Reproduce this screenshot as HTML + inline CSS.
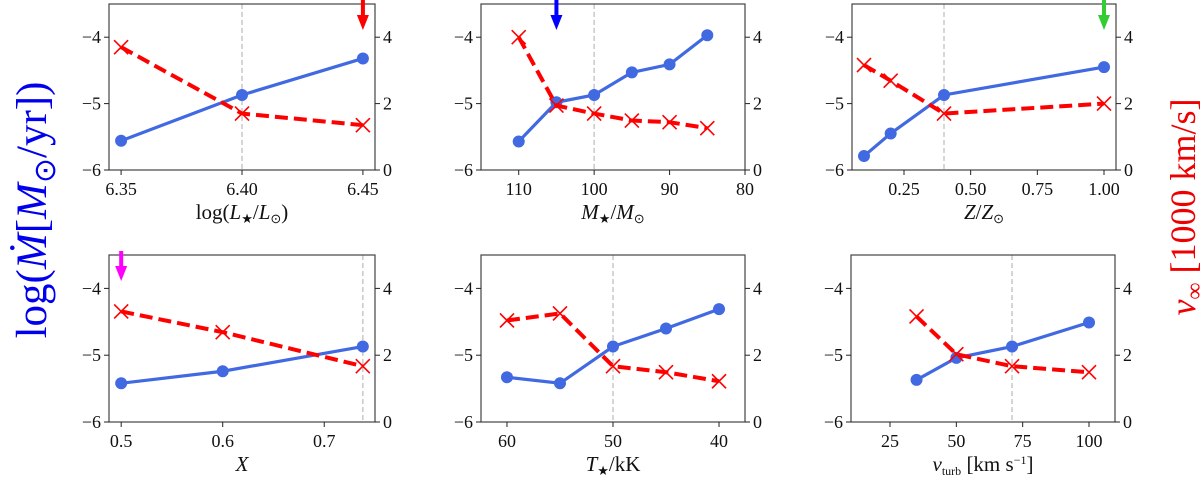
<!DOCTYPE html>
<html><head><meta charset="utf-8"><style>
html,body{margin:0;padding:0;background:#fff;}
svg{display:block;font-family:"Liberation Serif",serif;}
svg text{font-family:"Liberation Serif",serif;}
</style></head><body>
<svg id="fig" width="1200" height="480" viewBox="0 0 1200 480">
<text transform="translate(46,210) rotate(-90)" text-anchor="middle" font-size="43" fill="#0000ee">log(<tspan font-style="italic">Ṁ</tspan>[<tspan font-style="italic">M</tspan><tspan font-size="30" dy="9">⊙</tspan><tspan dy="-9">/yr])</tspan></text>
<text transform="translate(1195,207) rotate(-90)" text-anchor="middle" font-size="36" fill="#ee0000"><tspan font-style="italic">v</tspan><tspan font-size="24" dy="7">∞</tspan><tspan dy="-7"> [1000 km/s]</tspan></text>
</svg>
<script>
// Panel data arrays
const p1X=[6.35,6.40,6.45], p1Mdot=[-5.56,-4.87,-4.32], p1Vinf=[3.70,1.70,1.35];
const p2X=[110,105,100,95,90,85], p2Mdot=[-5.57,-4.98,-4.87,-4.53,-4.41,-3.97], p2Vinf=[4.00,1.94,1.70,1.49,1.44,1.26];
const p3X=[0.1,0.2,0.4,1.0], p3Mdot=[-5.79,-5.45,-4.87,-4.45], p3Vinf=[3.16,2.69,1.70,2.00];
const p4X=[0.5,0.6,0.738], p4Mdot=[-5.42,-5.24,-4.87], p4Vinf=[3.31,2.69,1.67];
const p5X=[60,55,50,45,40], p5Mdot=[-5.33,-5.42,-4.87,-4.60,-4.31], p5Vinf=[3.04,3.25,1.67,1.49,1.22];
const p6X=[35,50,71,100], p6Mdot=[-5.37,-5.04,-4.87,-4.51], p6Vinf=[3.16,2.03,1.67,1.49];
const p1Ticks=[6.35,6.40,6.45], p1TickLabels=["6.35","6.40","6.45"];
const p2Ticks=[110,100,90,80], p2TickLabels=["110","100","90","80"];
const p3Ticks=[0.25,0.5,0.75,1.0], p3TickLabels=["0.25","0.50","0.75","1.00"];
const p4Ticks=[0.5,0.6,0.7], p4TickLabels=["0.5","0.6","0.7"];
const p5Ticks=[60,50,40], p5TickLabels=["60","50","40"];
const p6Ticks=[25,50,75,100], p6TickLabels=["25","50","75","100"];
const refValues=[6.40,100,0.4,0.738,50,71];
const leftTicks=[-6,-5,-4], rightTicks=[0,2,4];

const NS="http://www.w3.org/2000/svg";
const svg=document.getElementById('fig');
function mk(tag,attrs,parent){const e=document.createElementNS(NS,tag);for(const k in attrs)e.setAttribute(k,attrs[k]);(parent||svg).appendChild(e);return e;}

const panels=[
 {x:p1X,m:p1Mdot,v:p1Vinf,t:p1Ticks,tl:p1TickLabels,xl:[6.345,6.455],box:[109,4,375,170],label:'<tspan>log(</tspan><tspan font-style="italic">L</tspan><tspan font-size="13" dy="4">★</tspan><tspan dy="-4">/</tspan><tspan font-style="italic">L</tspan><tspan font-size="13" dy="4">⊙</tspan><tspan dy="-4">)</tspan>',arrow:{x:6.45,c:'#ff0000'}},
 {x:p2X,m:p2Mdot,v:p2Vinf,t:p2Ticks,tl:p2TickLabels,xl:[115,80],box:[481,4,745,170],label:'<tspan font-style="italic">M</tspan><tspan font-size="13" dy="4">★</tspan><tspan dy="-4">/</tspan><tspan font-style="italic">M</tspan><tspan font-size="13" dy="4">⊙</tspan>',arrow:{x:105,c:'#0000ff'}},
 {x:p3X,m:p3Mdot,v:p3Vinf,t:p3Ticks,tl:p3TickLabels,xl:[0.055,1.045],box:[852,4,1116,170],label:'<tspan font-style="italic">Z</tspan><tspan>/</tspan><tspan font-style="italic">Z</tspan><tspan font-size="13" dy="4">⊙</tspan>',arrow:{x:1.0,c:'#33cc33'}},
 {x:p4X,m:p4Mdot,v:p4Vinf,t:p4Ticks,tl:p4TickLabels,xl:[0.488,0.750],box:[109,255,375,422],label:'<tspan font-style="italic">X</tspan>',arrow:{x:0.5,c:'#ff00ff'}},
 {x:p5X,m:p5Mdot,v:p5Vinf,t:p5Ticks,tl:p5TickLabels,xl:[62.45,37.55],box:[481,255,745,422],label:'<tspan font-style="italic">T</tspan><tspan font-size="13" dy="4">★</tspan><tspan dy="-4">/kK</tspan>',arrow:null},
 {x:p6X,m:p6Mdot,v:p6Vinf,t:p6Ticks,tl:p6TickLabels,xl:[10.3,109.8],box:[851,255,1115,422],label:'<tspan font-style="italic">v</tspan><tspan font-size="12" dy="4">turb</tspan><tspan dy="-4"> [km s</tspan><tspan font-size="12" dy="-7">−1</tspan><tspan dy="7">]</tspan>',arrow:null}
];

panels.forEach((p,i)=>{
 const [x0,y0,x1,y1]=p.box;
 const g=mk('g',{});
 
 
 const sx=v=>x0+(v-p.xl[0])/(p.xl[1]-p.xl[0])*(x1-x0);
 const syL=v=>y1-(v-(-6))/2.5*(y1-y0);
 const syR=v=>y1-v/5*(y1-y0);
 const rx=sx(refValues[i]);
 const rl=mk('line',{x1:rx,x2:rx,y1:y0,y2:y1,stroke:'#c8c8c8','stroke-width':1.5,'stroke-dasharray':'5,3'},g);
 
 
 const bp=p.x.map((x,k)=>sx(x)+','+syL(p.m[k])).join(' ');
 const bl=mk('polyline',{points:bp,fill:'none',stroke:'#4169e1','stroke-width':3.2},g);
 
 
 p.x.forEach((x,k)=>{const c=mk('circle',{cx:sx(x),cy:syL(p.m[k]),r:6,fill:'#4169e1'},g);
  
  });
 const rp=p.x.map((x,k)=>sx(x)+','+syR(p.v[k])).join(' ');
 const rdl=mk('polyline',{points:rp,fill:'none',stroke:'#ff0000','stroke-width':4,'stroke-dasharray':'13,6'},g);
 
 
 p.x.forEach((x,k)=>{const cx=sx(x),cy=syR(p.v[k]),d=7;
  const m=mk('path',{d:`M${cx-d},${cy-d}L${cx+d},${cy+d}M${cx-d},${cy+d}L${cx+d},${cy-d}`,stroke:'#ff0000','stroke-width':1.6,fill:'none'},g);
  
  });
 const b=mk('rect',{x:x0,y:y0,width:x1-x0,height:y1-y0,fill:'none',stroke:'#444','stroke-width':1.2},g);
 
 
 p.t.forEach((t,k)=>{const tx=sx(t);
  mk('line',{x1:tx,x2:tx,y1:y1,y2:y1+5,stroke:'#222','stroke-width':1},g);
  const tl=mk('text',{x:tx,y:y1+25,'text-anchor':'middle','font-size':18,fill:'#111'},g);
  tl.textContent=p.tl[k];
  
  });
 leftTicks.forEach(t=>{const ty=syL(t);
  mk('line',{x1:x0-5,x2:x0,y1:ty,y2:ty,stroke:'#222','stroke-width':1},g);
  const tl=mk('text',{x:x0-8,y:ty+6,'text-anchor':'end','font-size':18,fill:'#111'},g);
  tl.textContent=String(t).replace('-','−');
  
  });
 rightTicks.forEach(t=>{const ty=syR(t);
  mk('line',{x1:x1,x2:x1+5,y1:ty,y2:ty,stroke:'#222','stroke-width':1},g);
  const tl=mk('text',{x:x1+8,y:ty+6,'text-anchor':'start','font-size':18,fill:'#111'},g);
  tl.textContent=String(t);
  
  });
 const xl=mk('text',{x:(x0+x1)/2,y:y1+49,'text-anchor':'middle','font-size':21,fill:'#111'},g);
 xl.innerHTML=p.label;
 
 
 if(p.arrow){const ax=sx(p.arrow.x);
  const ar=mk('path',{d:`M${ax-2},${y0-4}L${ax+2},${y0-4}L${ax+2},${y0+11}L${ax+6},${y0+11}L${ax},${y0+26}L${ax-6},${y0+11}L${ax-2},${y0+11}Z`,fill:p.arrow.c},g);
  
  }
});
</script>
</body></html>
